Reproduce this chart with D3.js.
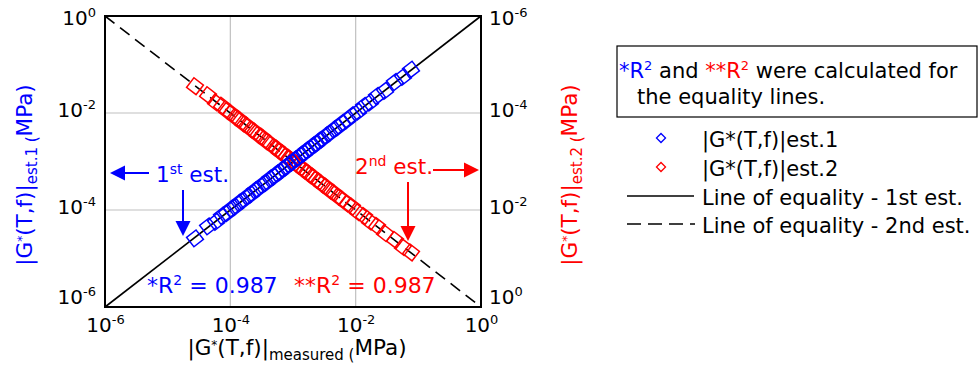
<!DOCTYPE html>
<html><head><meta charset="utf-8">
<script src="https://cdn.jsdelivr.net/npm/d3@7"></script>
<style>
html,body{margin:0;padding:0;background:#fff;}
svg text{font-family:"DejaVu Sans",Verdana,sans-serif;}
</style></head>
<body>
<svg id="c" width="979" height="367"></svg>
<script>
// ---- data (MPa) ----
const measured = [2.73e-5,4.41e-5,5.9e-5,7.36e-5,8.85e-5,1.03e-4,1.19e-4,1.37e-4,1.59e-4,1.85e-4,2.14e-4,2.47e-4,2.76e-4,3.2e-4,3.71e-4,4.3e-4,4.98e-4,5.56e-4,6.19e-4,6.92e-4,7.73e-4,8.63e-4,9.64e-4,1.08e-3,1.2e-3,1.34e-3,1.5e-3,1.67e-3,1.87e-3,2.08e-3,2.33e-3,2.6e-3,2.9e-3,3.36e-3,3.89e-3,4.51e-3,5.22e-3,6.05e-3,7.28e-3,8.73e-3,1.09e-2,1.36e-2,1.69e-2,2.19e-2,2.94e-2,4.24e-2,5.69e-2,7.64e-2];
const est1 = [2.6e-5,4.6e-5,5.7e-5,7.6e-5,8.6e-5,1.06e-4,1.15e-4,1.42e-4,1.55e-4,1.9e-4,2.08e-4,2.55e-4,2.7e-4,3.3e-4,3.6e-4,4.45e-4,4.85e-4,5.75e-4,6.0e-4,7.1e-4,7.5e-4,8.9e-4,9.4e-4,1.11e-3,1.17e-3,1.38e-3,1.46e-3,1.72e-3,1.82e-3,2.14e-3,2.27e-3,2.68e-3,2.83e-3,3.45e-3,3.8e-3,4.62e-3,5.1e-3,6.2e-3,7.1e-3,8.95e-3,1.06e-2,1.4e-2,1.65e-2,2.25e-2,2.87e-2,4.35e-2,5.55e-2,7.8e-2];
const est2 = [2.8e-5,4.3e-5,6.1e-5,7.1e-5,9.1e-5,1.0e-4,1.23e-4,1.33e-4,1.64e-4,1.8e-4,2.2e-4,2.4e-4,2.85e-4,3.1e-4,3.82e-4,4.2e-4,5.1e-4,5.4e-4,6.35e-4,6.75e-4,7.95e-4,8.4e-4,9.9e-4,1.05e-3,1.23e-3,1.31e-3,1.54e-3,1.63e-3,1.92e-3,2.03e-3,2.39e-3,2.54e-3,2.98e-3,3.28e-3,4.0e-3,4.4e-3,5.35e-3,5.9e-3,7.45e-3,8.5e-3,1.12e-2,1.33e-2,1.73e-2,2.14e-2,3.0e-2,4.15e-2,5.8e-2,7.5e-2];
const tickValues = [1e-6,1e-4,1e-2,1];
const tickExponents = ["-6","-4","-2","0"];
const r2Values = {est1:"0.987", est2:"0.987"};
const legendLabels = ["|G*(T,f)|est.1","|G*(T,f)|est.2","Line of equality - 1st est.","Line of equality - 2nd est."];

const BLUE="#0000ff", RED="#ff0000";
const svg = d3.select("#c");
const L=105,R=481,T=16,B=307;
const x = d3.scaleLog().domain([1e-6,1]).range([L,R]);
const yL = d3.scaleLog().domain([1e-6,1]).range([B,T]);
const yR = d3.scaleLog().domain([1e-6,1]).range([T,B]);

// grid
const g = svg.append("g");
[1e-4,1e-2].forEach(v=>{
  g.append("line").attr("x1",x(v)).attr("x2",x(v)).attr("y1",T).attr("y2",B).attr("stroke","#c0c0c0").attr("stroke-width",1.2);
  g.append("line").attr("y1",yL(v)).attr("y2",yL(v)).attr("x1",L).attr("x2",R).attr("stroke","#c0c0c0").attr("stroke-width",1.2);
});

// equality lines
svg.append("line").attr("x1",x(1e-6)).attr("y1",yL(1e-6)).attr("x2",x(1)).attr("y2",yL(1))
  .attr("stroke","#000").attr("stroke-width",1.6);
svg.append("line").attr("x1",x(1e-6)).attr("y1",yR(1e-6)).attr("x2",x(1)).attr("y2",yR(1))
  .attr("stroke","#000").attr("stroke-width",1.6).attr("stroke-dasharray","12,7");

// markers
const ang = Math.atan2(B-T, R-L)*180/Math.PI;
const S=12;
function markers(vals, ys, color, rot){
  svg.append("g").selectAll("rect").data(measured.map((m,i)=>[m,vals[i]])).join("rect")
    .attr("x",-S/2).attr("y",-S/2).attr("width",S).attr("height",S)
    .attr("fill","none").attr("stroke",color).attr("stroke-width",1.5)
    .attr("transform",d=>`translate(${x(d[0])},${ys(d[1])}) rotate(${rot})`);
}
markers(est2, yR, RED, ang);
markers(est1, yL, BLUE, -ang);

// frame
svg.append("rect").attr("x",L).attr("y",T).attr("width",R-L).attr("height",B-T)
  .attr("fill","none").attr("stroke","#000").attr("stroke-width",2);

// axes with custom labels
function supLabel(sel, exp){
  sel.append("tspan").text("10");
  sel.append("tspan").attr("font-size","13px").attr("dy","-8").text(exp);
}
const FS="20px";
const ax = svg.append("g").attr("transform",`translate(0,${B})`)
  .call(d3.axisBottom(x).tickValues(tickValues).tickSize(0).tickFormat(""));
ax.select(".domain").remove();
ax.selectAll(".tick").each(function(d,i){
  const t=d3.select(this).append("text").attr("y",25).attr("fill","#000").attr("font-size",FS).attr("text-anchor","middle");
  supLabel(t,tickExponents[i]);
});
const ayl = svg.append("g").attr("transform",`translate(${L},0)`)
  .call(d3.axisLeft(yL).tickValues(tickValues).tickSize(0).tickFormat(""));
ayl.select(".domain").remove();
ayl.selectAll(".tick").each(function(d,i){
  const yy=yL(d);
  const base=Math.max(24,Math.min(303,yy+3));
  const t=d3.select(this).append("text").attr("x",-9).attr("y",base-yy).attr("fill","#000").attr("font-size",FS).attr("text-anchor","end").attr("dy",0);
  supLabel(t,tickExponents[i]);
});
const ayr = svg.append("g").attr("transform",`translate(${R},0)`)
  .call(d3.axisRight(yR).tickValues(tickValues).tickSize(0).tickFormat(""));
ayr.select(".domain").remove();
ayr.selectAll(".tick").each(function(d,i){
  const yy=yR(d);
  const base=Math.max(24,Math.min(303,yy+3));
  const t=d3.select(this).append("text").attr("x",8).attr("y",base-yy).attr("fill","#000").attr("font-size",FS).attr("text-anchor","start").attr("dy",0);
  supLabel(t,tickExponents[i]);
});

// axis titles
const TFS="21.5px";
function gTitle(t, sub){
  t.append("tspan").text("|G");
  t.append("tspan").attr("font-size","12px").attr("dy","-6").text("*");
  t.append("tspan").attr("dy","6").text("(T,f)|");
  t.append("tspan").attr("font-size","15px").attr("dy","5").text(sub);
  t.append("tspan").attr("dy","-5").text("MPa)");
}
const xt = svg.append("text").attr("x",297).attr("y",355).attr("text-anchor","middle").attr("font-size",TFS).attr("fill","#000");
gTitle(xt,"measured (");
const ylt = svg.append("text").attr("transform",`translate(32,${175}) rotate(-90)`).attr("text-anchor","middle").attr("font-size",TFS).attr("fill",BLUE);
gTitle(ylt,"est.1 (");
const yrt = svg.append("text").attr("transform",`translate(577,${175}) rotate(-90)`).attr("text-anchor","middle").attr("font-size",TFS).attr("fill",RED);
gTitle(yrt,"est.2 (");

// annotations
function arrow(x1,y1,x2,y2,color){
  const a=Math.atan2(y2-y1,x2-x1), hl=15, hw=7.5;
  const bx=x2-hl*Math.cos(a), by=y2-hl*Math.sin(a);
  svg.append("line").attr("x1",x1).attr("y1",y1).attr("x2",bx).attr("y2",by).attr("stroke",color).attr("stroke-width",2);
  svg.append("path").attr("d",`M${x2},${y2}L${bx-hw*Math.sin(a)},${by+hw*Math.cos(a)}L${bx+hw*Math.sin(a)},${by-hw*Math.cos(a)}Z`).attr("fill",color);
}
const AFS="21.5px";
const a1=svg.append("text").attr("x",156).attr("y",182).attr("font-size",AFS).attr("fill",BLUE);
a1.append("tspan").text("1");
a1.append("tspan").attr("font-size","14px").attr("dy","-8").text("st");
a1.append("tspan").attr("dy","8").text(" est.");
arrow(149,173,110,173,BLUE);
arrow(183,190,183,236,BLUE);

const a2=svg.append("text").attr("x",355).attr("y",174).attr("font-size",AFS).attr("fill",RED);
a2.append("tspan").text("2");
a2.append("tspan").attr("font-size","14px").attr("dy","-8").text("nd");
a2.append("tspan").attr("dy","8").text(" est.");
arrow(433,170,479,170,RED);
arrow(408,182,408,241,RED);

function r2(xp,stars,val,color){
  const t=svg.append("text").attr("x",xp).attr("y",293).attr("font-size","22px").attr("fill",color);
  t.append("tspan").text(stars+"R");
  t.append("tspan").attr("font-size","14px").attr("dy","-8").text("2");
  t.append("tspan").attr("dy","8").text(" = "+val);
}
r2(147,"*",r2Values.est1,BLUE);
r2(294,"**",r2Values.est2,RED);

// legend
const LFS="21px";
svg.append("rect").attr("x",617).attr("y",46).attr("width",360).attr("height",71).attr("fill","#fff").attr("stroke","#000").attr("stroke-width",1.2);
const n1=svg.append("text").attr("x",619).attr("y",78).attr("font-size",LFS).attr("fill","#000");
n1.append("tspan").attr("fill",BLUE).text("*R");
n1.append("tspan").attr("fill",BLUE).attr("font-size","13px").attr("dy","-8").text("2");
n1.append("tspan").attr("dy","8").text(" and ");
n1.append("tspan").attr("fill",RED).text("**R");
n1.append("tspan").attr("fill",RED).attr("font-size","13px").attr("dy","-8").text("2");
n1.append("tspan").attr("dy","8").text(" were calculated for");
svg.append("text").attr("x",637).attr("y",104).attr("font-size",LFS).attr("fill","#000").text("the equality lines.");

const ly=[138,167,196,224];
[[BLUE],[RED]].forEach((c,i)=>{
  svg.append("rect").attr("x",-3.2).attr("y",-3.2).attr("width",6.4).attr("height",6.4)
    .attr("fill","none").attr("stroke",c[0]).attr("stroke-width",1.3)
    .attr("transform",`translate(661,${ly[i]}) rotate(45)`);
});
svg.append("line").attr("x1",627).attr("x2",694).attr("y1",ly[2]).attr("y2",ly[2]).attr("stroke","#000").attr("stroke-width",1.5);
svg.append("line").attr("x1",627).attr("x2",695).attr("y1",ly[3]).attr("y2",ly[3]).attr("stroke","#000").attr("stroke-width",1.5).attr("stroke-dasharray","14,7");
legendLabels.forEach((s,i)=>{
  svg.append("text").attr("x",702).attr("y",ly[i]+9).attr("font-size",LFS).attr("fill","#000").text(s);
});
</script>
</body></html>
